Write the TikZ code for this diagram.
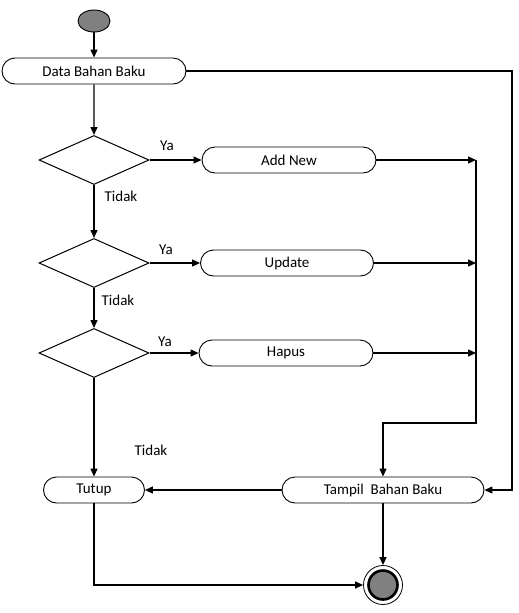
\documentclass[tikz,border=0pt]{standalone}
\usepackage{fontspec}
\setmainfont{Carlito}
\usetikzlibrary{positioning,arrows.meta,shapes.geometric,shapes.misc}

\begin{document}
\begin{tikzpicture}[
  x=1pt, y=-1pt,
  activity/.style={draw, rounded rectangle, rounded rectangle arc length=180,
                   minimum height=26pt, inner sep=2pt, line width=0.9pt,
                   font=\fontsize{15}{17}\selectfont},
  decision/.style={draw, diamond, minimum width=110pt, minimum height=49pt,
                   inner sep=0pt, line width=1pt},
  guard/.style={font=\fontsize{15}{17}\selectfont},
  flow/.style={-{Triangle[length=8pt,width=7pt]}, line width=1.3pt},
  >=Triangle
]
  \useasboundingbox (0,0) rectangle (519,613);

  % Start
  \node[draw, ellipse, fill=black!50, line width=0.9pt,
        minimum width=32pt, minimum height=22pt] (start) at (94,21) {};

  % Activities
  \node[activity, minimum width=188pt] (data) at (94,71) {Data Bahan Baku};
  \node[activity, minimum width=178pt] (addnew) at (289,160) {Add New};
  \node[activity, minimum width=177pt] (update) at (287,263) {Update};
  \node[activity, minimum width=178pt] (hapus) at (286,353) {Hapus};
  \node[activity, minimum width=105pt] (tutup) at (94,490) {Tutup};
  \node[activity, minimum width=206pt] (tampil) at (383,490) {Tampil\ \ Bahan Baku};

  % Decisions
  \node[decision] (cek1) at (94,160) {};
  \node[decision] (cek2) at (94,263) {};
  \node[decision] (cek3) at (94,353) {};

  % End
  \node[draw, circle, line width=0.8pt, minimum size=39pt] (finish) at (383,585) {};
  \node[draw, circle, fill=black!50, line width=2.6pt, minimum size=29pt] (finishin) at (383,585) {};

  % Guards
  \node[guard] (ya1) at (167,146) {Ya};
  \node[guard] (ya2) at (166,250) {Ya};
  \node[guard] (ya3) at (165,342) {Ya};
  \node[guard] (tidak1) at (121,196) {Tidak};
  \node[guard] (tidak2) at (118,300) {Tidak};
  \node[guard] (tidak3) at (151,450) {Tidak};

  % Junctions
  \coordinate (j1) at (476,160);
  \coordinate (j2) at (476,263);
  \coordinate (j3) at (476,353);
  \coordinate (jb) at (476,423);
  \coordinate (loop) at (512,71);

  % Main flow
  \draw[flow] (start) -- (data);
  \draw[flow] (data) -- (cek1);
  \draw[flow] (cek1) -- (cek2);
  \draw[flow] (cek2) -- (cek3);
  \draw[flow] (cek3) -- (tutup);
  \draw[flow] (cek1.east) -- (addnew.west);
  \draw[flow] (cek2.east) -- (update.west);
  \draw[flow] (cek3.east) -- (hapus.west);

  % Merge into display
  \draw[flow] (addnew.east) -- (j1);
  \draw[flow] (update.east) -- (j2);
  \draw[flow] (hapus.east) -- (j3);
  \draw[flow] (j1) -- (jb) -| (tampil.north);
  \draw[flow] (data.east) -- (loop) |- (tampil.east);

  % To the end
  \draw[flow] (tampil.west) -- (tutup.east);
  \draw[flow] (tampil.south) -- (finish.north);
  \draw[flow] (tutup.south) |- (finish.west);
\end{tikzpicture}
\end{document}
